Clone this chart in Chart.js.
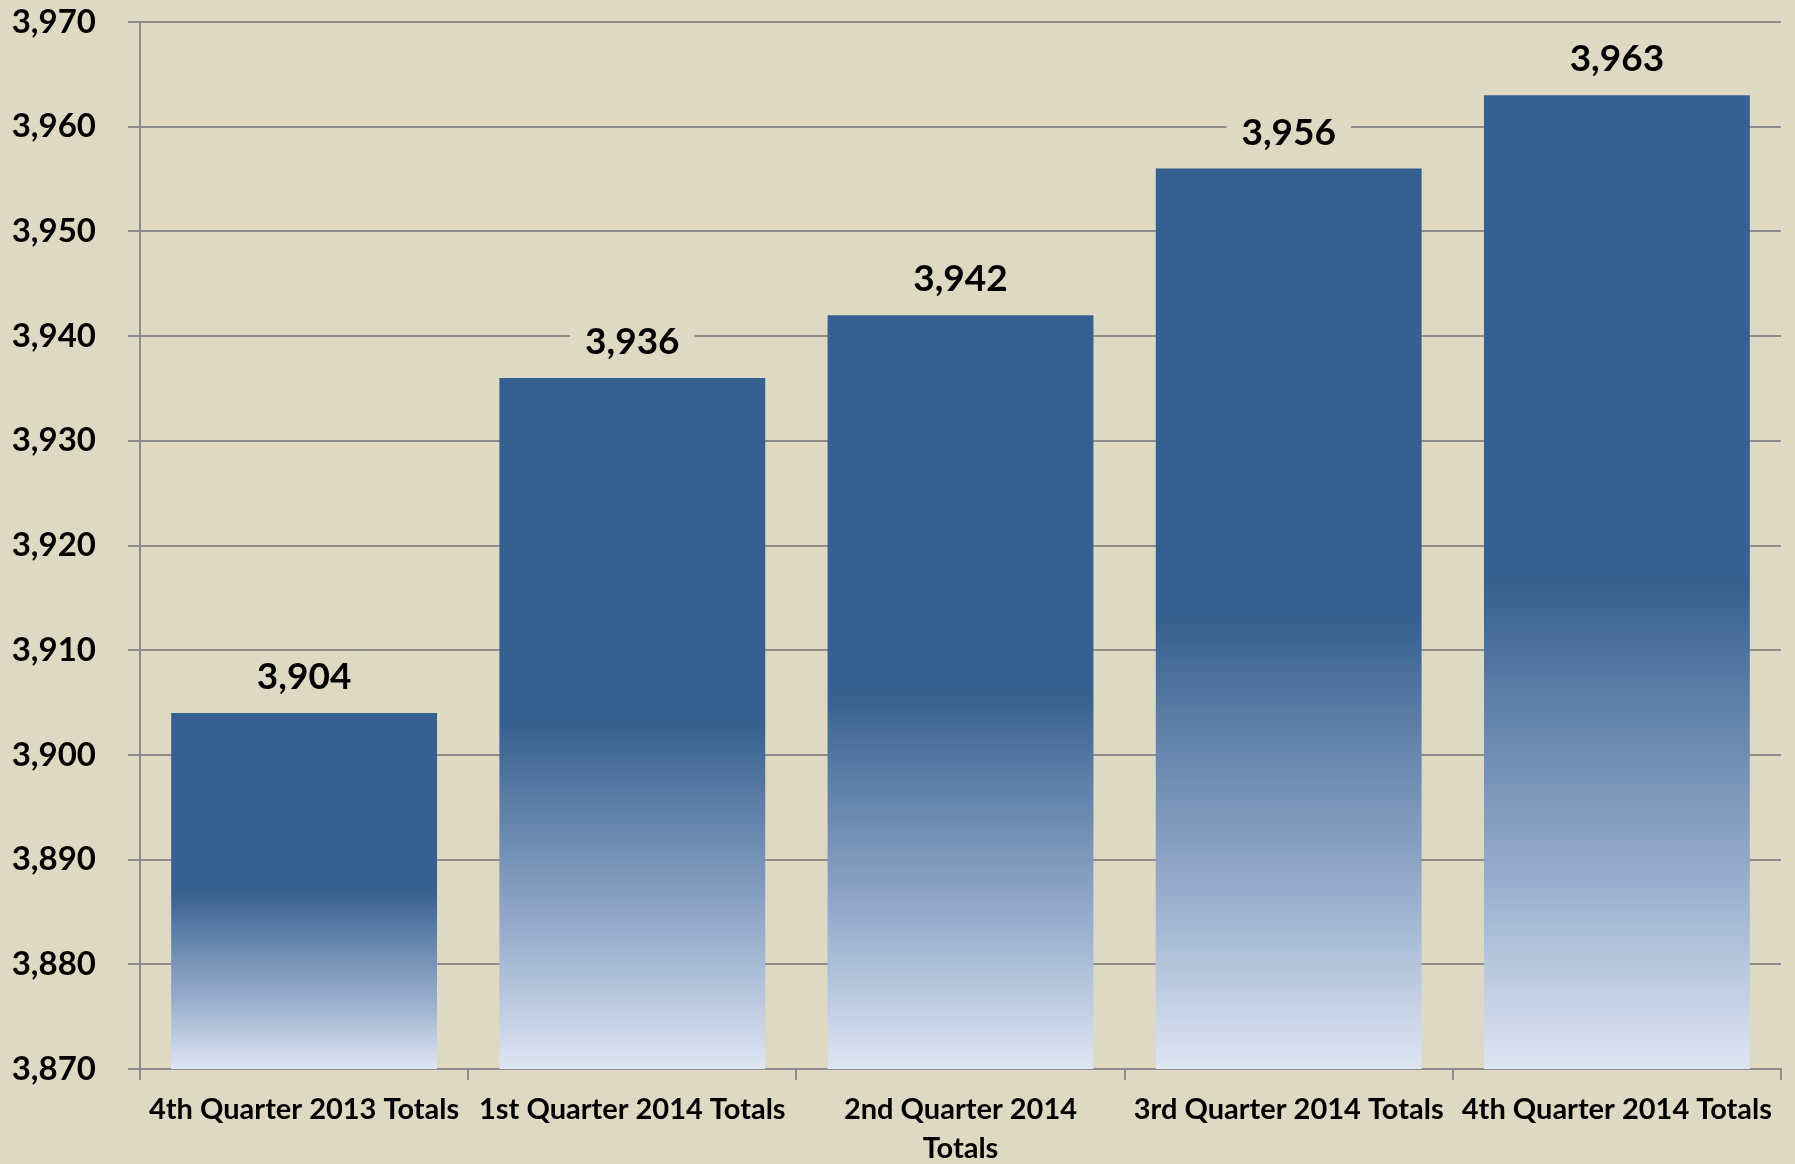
<!DOCTYPE html>
<html>
<head>
<meta charset="utf-8">
<script src="https://cdn.jsdelivr.net/npm/chart.js@4.4.1/dist/chart.umd.min.js"></script>
<style>
  html, body { margin: 0; padding: 0; background: #DDD9C3; overflow: hidden; }
  #wrap { width: 1795px; height: 1164px; }
</style>
</head>
<body>
<div id="wrap"><canvas id="canvas" width="1795" height="1164"></canvas></div>
<script>
const categories = [
    '4th Quarter 2013 Totals',
    '1st Quarter 2014 Totals',
    ['2nd Quarter 2014', 'Totals'],
    '3rd Quarter 2014 Totals',
    '4th Quarter 2014 Totals'
];
const totals = [3904, 3936, 3942, 3956, 3963];
const yMin = 3870;
const yMax = 3970;
const yStep = 10;

const bgColor = '#DDD9C3';
const gridColor = '#8C8C8C';
const fontFamily = 'Lato, "Open Sans", sans-serif';

// each bar: solid blue on its top half, fading to pale blue at the base
function barGradient(context) {
    const chart = context.chart;
    const yScale = chart.scales && chart.scales.y;
    if (!chart.chartArea || !yScale || context.type !== 'data') return '#36608F';
    const top = yScale.getPixelForValue(totals[context.dataIndex]);
    const bottom = yScale.getPixelForValue(yMin);
    if (!isFinite(top) || !isFinite(bottom) || top >= bottom) return '#36608F';
    const g = chart.ctx.createLinearGradient(0, top, 0, bottom);
    g.addColorStop(0, '#36608F');
    g.addColorStop(0.5, '#36608F');
    g.addColorStop(0.62, '#5E7FA8');
    g.addColorStop(0.8, '#96ACCB');
    g.addColorStop(1, '#DEE5F3');
    return g;
}

// value labels above the bars, with a background box that cuts the gridline
const valueLabels = {
    id: 'valueLabels',
    afterDatasetsDraw(chart) {
        const ctx = chart.ctx;
        const meta = chart.getDatasetMeta(0);
        ctx.save();
        ctx.font = 'bold 37px ' + fontFamily;
        ctx.textAlign = 'center';
        ctx.textBaseline = 'middle';
        meta.data.forEach((bar, i) => {
            const text = totals[i].toLocaleString('en-US');
            const y = bar.y - 36;
            const w = ctx.measureText(text).width + 30;
            ctx.fillStyle = bgColor;
            ctx.fillRect(bar.x - w / 2, y - 22, w, 44);
            ctx.fillStyle = '#000';
            ctx.fillText(text, bar.x, y);
        });
        ctx.restore();
    }
};

new Chart('canvas', {
    type: 'bar',
    data: {
        labels: categories,
        datasets: [
            {
                label: 'Totals',
                data: totals,
                backgroundColor: barGradient,
                borderWidth: 0,
                categoryPercentage: 1,
                barPercentage: 0.81
            }
        ]
    },
    options: {
        responsive: false,
        animation: false,
        layout: {
            padding: { left: 0, right: 14, top: 22, bottom: 0 }
        },
        plugins: {
            legend: { display: false },
            tooltip: { enabled: false }
        },
        scales: {
            x: {
                afterFit(scale) {
                    scale.height = 95;
                    scale.paddingLeft = 0;
                    scale.paddingRight = 0;
                },
                grid: {
                    display: true,
                    drawOnChartArea: false,
                    drawTicks: true,
                    tickLength: 11,
                    color: gridColor,
                    lineWidth: 2
                },
                border: { display: true, color: gridColor, width: 2 },
                ticks: {
                    color: '#000',
                    font: { family: fontFamily, size: 29, weight: 'bold', lineHeight: 1.35 },
                    maxRotation: 0,
                    autoSkip: false,
                    padding: 10
                }
            },
            y: {
                min: yMin,
                max: yMax,
                afterFit(scale) {
                    scale.width = 140;
                    scale.paddingTop = 0;
                    scale.paddingBottom = 0;
                },
                grid: {
                    color: gridColor,
                    lineWidth: 2,
                    tickLength: 12
                },
                border: { display: true, color: gridColor, width: 2 },
                ticks: {
                    stepSize: yStep,
                    color: '#000',
                    font: { family: fontFamily, size: 33, weight: 'bold' },
                    padding: 32,
                    callback: v => v.toLocaleString('en-US')
                }
            }
        }
    },
    plugins: [valueLabels]
});
</script>
</body>
</html>
